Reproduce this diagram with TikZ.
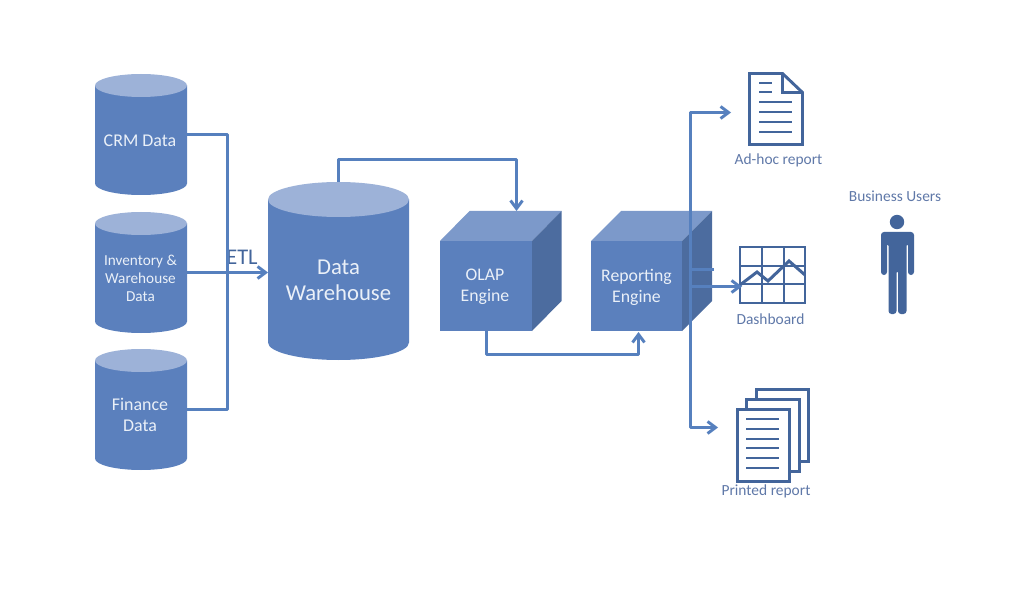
\documentclass[tikz,border=0pt]{standalone}
\usepackage{fontspec}
\setmainfont{Carlito}
\usetikzlibrary{arrows.meta}
\definecolor{bodyblue}{HTML}{5B80BD}
\definecolor{capblue}{HTML}{9DB2D8}
\definecolor{cubetop}{HTML}{7C99CA}
\definecolor{cubeside}{HTML}{4C6C9F}
\definecolor{linkblue}{HTML}{5680BE}
\definecolor{iconblue}{HTML}{43659B}
\definecolor{captionblue}{HTML}{5F78A8}
\definecolor{facetext}{HTML}{EAF0F8}
\tikzset{
  facelabel/.style={text=facetext,align=center,inner sep=0pt},
  caption/.style={text=captionblue,inner sep=0pt,font=\fontsize{15.5}{18}\selectfont},
  link/.style={draw=linkblue,line width=2.95bp,line join=round},
  flow/.style={link,-{Straight Barb[length=8bp,width=12bp,line width=2.95bp]}},
  icon/.style={draw=iconblue,line width=2.95bp,fill=white,line join=miter},
  rule/.style={draw=iconblue,line width=1.95bp},
}
% Database drum: name, left, right, top, bottom, cap height
\newcommand{\drum}[6]{%
  \pgfmathsetmacro{\rx}{(#3-#2)/2}
  \pgfmathsetmacro{\ry}{#6/2}
  \pgfmathsetmacro{\cx}{(#2+#3)/2}
  \fill[bodyblue] (#2,#4+\ry) -- (#2,#5-\ry) arc[start angle=180,end angle=360,x radius=\rx,y radius=-\ry]
     -- (#3,#4+\ry) -- cycle;
  \fill[capblue] (\cx,#4+\ry) ellipse[x radius=\rx,y radius=\ry];
  \node[inner sep=0pt,outer sep=0pt,minimum width=#3bp-#2bp,minimum height=#5bp-#4bp] (#1) at (\cx,{(#4+#5)/2}) {};
}
% Box in oblique view: name, left, right, top, bottom, depth
\newcommand{\crate}[6]{%
  \fill[cubetop] (#2,#4) -- (#2+#6,#4-30) -- (#3+#6,#4-30) -- (#3,#4) -- cycle;
  \fill[cubeside] (#3,#4) -- (#3+#6,#4-30) -- (#3+#6,#5-30) -- (#3,#5) -- cycle;
  \fill[bodyblue] (#2,#4) rectangle (#3,#5);
  \node[inner sep=0pt,outer sep=0pt,minimum width=#3bp-#2bp,minimum height=#5bp-#4bp] (#1) at ({(#2+#3)/2},{(#4+#5)/2}) {};
}
\begin{document}
\begin{tikzpicture}[x=1bp,y=-1bp]
\useasboundingbox (0,0) rectangle (1021,594);

% Source databases and the warehouse
\drum{crm}{95}{187}{74}{195}{23}
\drum{inv}{95}{187}{212}{333}{23}
\drum{fin}{95}{187}{349}{470}{23}
\drum{dw}{268}{409}{182}{360}{35}
\node[facelabel,font=\fontsize{18}{21}\selectfont] (crmtext) at (140,140.5) {CRM Data};
\node[facelabel,font=\fontsize{15.3}{18}\selectfont] (invtext) at (140.5,278) {Inventory \&\\Warehouse\\Data};
\node[facelabel,font=\fontsize{18}{21}\selectfont] (fintext) at (140,415) {Finance\\Data};
\node[facelabel,font=\fontsize{22.8}{26}\selectfont] (dwtext) at (338.5,280) {Data\\Warehouse};

% Engines
\crate{olap}{440}{532}{241}{331}{29.5}
\crate{rep}{591}{682}{241}{331}{30}
\node[facelabel,font=\fontsize{17.8}{21}\selectfont] (olaptext) at (485,287) {OLAP\\Engine};
\node[facelabel,font=\fontsize{17.8}{21}\selectfont] (reptext) at (636.5,287) {Reporting\\Engine};

% Report, chart and document stack
\draw[icon] (749.5,73.5) -- (782.5,73.5) -- (802.5,92.5) -- (802.5,144.5) -- (749.5,144.5) -- cycle;
\draw[icon,fill=none] (782.5,73.5) -- (782.5,92.5) -- (802.5,92.5);
\foreach \yy in {83,92} \draw[rule] (759,\yy) -- (772,\yy);
\foreach \yy in {102,112,122,132} \draw[rule] (759,\yy) -- (792,\yy);

\coordinate (chart) at (742,286.5);
\draw[icon,line width=1.95bp,fill=white] (740,247) rectangle (805,303);
\draw[rule] (762,247) -- (762,303) (784,247) -- (784,303) (740,266) -- (805,266) (740,284) -- (805,284);
\draw[icon,fill=none,line width=3bp] (740,285) -- (757,272) -- (768,281) -- (789,261) -- (805,275);

\draw[icon] (756.5,389.5) rectangle (808.5,461.5);
\draw[icon] (746.5,399.5) rectangle (799.5,471.5);
\draw[icon] (737.5,409.5) rectangle (789.5,481.5);
\foreach \yy in {419,429,439,448,458,468} \draw[rule] (746,\yy) -- (779,\yy);

% Business user figure
\fill[iconblue] (897,222) circle[radius=7.2];
\fill[iconblue,rounded corners=3pt] (881,232) -- (914,232) -- (914,275) -- (908,275) -- (908,243) -- (906.5,243)
   -- (906.5,314) -- (898,314) -- (898,270) -- (896.5,270) -- (896.5,314) -- (888.5,314) -- (888.5,243) -- (887,243)
   -- (887,275) -- (881,275) -- cycle;

% Captions
\node[caption] (adhoclabel) at (778.5,160.5) {Ad-hoc report};
\node[caption] (userlabel) at (895,196.5) {Business Users};
\node[caption] (chartlabel) at (770.5,319.5) {Dashboard};
\node[caption] (stacklabel) at (766,491.5) {Printed report};
\node[text=iconblue,inner sep=0pt,font=\fontsize{22.5}{26}\selectfont] (etl) at (242,257) {ETL};

% Data flow
\draw[link] (crm.east) -| (227.5,272.5);
\draw[link] (fin.east) -| (227.5,272.5);
\draw[flow] (inv.east) -- (dw.west |- inv.east);
\coordinate (olaptop) at (516.5,211);
\draw[flow] (dw.north) |- (516.5,159.5) -- (olaptop);
\coordinate (repfoot) at (638.5,332);
\draw[flow] ([xshift=.5bp]olap.south) |- (638.5,354.5) -- (repfoot);

% Report distribution
\coordinate (bus) at (690.5,269.5);
\coordinate (adhoc) at (731,112.5);
\coordinate (stack) at (718,427.5);
\draw[link] (bus) -- (714,269.5);
\draw[flow] (bus) |- (adhoc);
\draw[flow] (bus) |- (stack);
\draw[flow] (bus |- chart) -- (chart);
\end{tikzpicture}
\end{document}
